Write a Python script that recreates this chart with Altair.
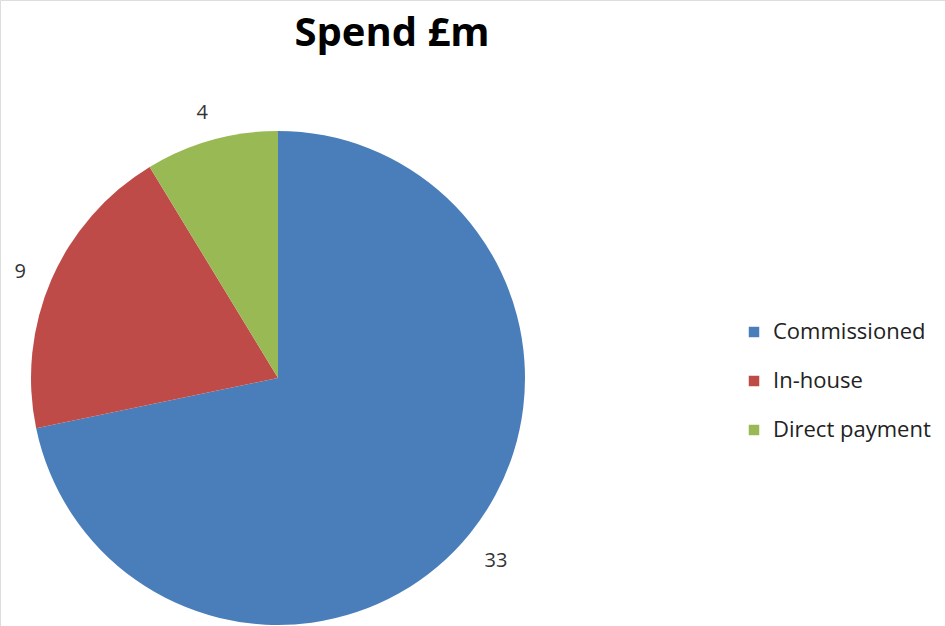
import altair as alt
import pandas as pd

categories = ["Commissioned", "In-house", "Direct payment"]
values = [33, 9, 4]
colors = ["#4A7EBB", "#BE4B48", "#98B954"]
title_text = "Spend £m"

df = pd.DataFrame({"category": categories, "value": values, "order": list(range(len(categories)))})

CX, CY, R = 278, 378, 247

base = alt.Chart(df).encode(
    theta=alt.Theta("value:Q", stack=True),
    order=alt.Order("order:Q"),
    x=alt.value(CX),
    y=alt.value(CY),
)

arcs = base.mark_arc(outerRadius=R, stroke=None).encode(
    color=alt.Color(
        "category:N",
        scale=alt.Scale(domain=categories, range=colors),
        sort=categories,
        legend=alt.Legend(
            title=None,
            orient="none",
            legendX=743,
            legendY=321,
            symbolType="square",
            symbolSize=110,
            symbolStrokeWidth=0,
            labelFont="Open Sans",
            labelFontSize=22,
            labelColor="#222222",
            labelOffset=8,
            rowPadding=27,
        ),
    )
)

labels = base.mark_text(
    radius=281, dy=6, font="Open Sans", fontSize=20, color="#333333", align="center", baseline="middle"
).encode(text=alt.Text("value:Q"))

title = alt.Chart(pd.DataFrame({"t": [title_text]})).mark_text(
    font="Open Sans", fontSize=40, fontWeight="bold", color="#000000", align="center", baseline="alphabetic"
).encode(text="t:N", x=alt.value(392), y=alt.value(46))

chart = (
    alt.layer(arcs, labels, title)
    .properties(width=945, height=626, autosize=alt.AutoSizeParams(type="none"), padding=0)
    .configure_view(stroke=None)
    .configure(background="white")
)

chart.save("out.html", embed_options={"renderer": "svg", "actions": False})
